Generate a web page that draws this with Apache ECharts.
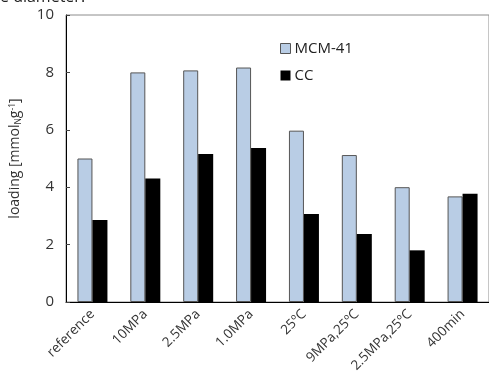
<!DOCTYPE html>
<html>
<head>
<meta charset="utf-8">
<script src="https://cdn.jsdelivr.net/npm/echarts@6/dist/echarts.min.js"></script>
<style>html,body{margin:0;padding:0;background:#fff;}#c{width:489px;height:381px;}</style>
</head>
<body>
<div id="c"></div>
<script>
var categories = ['reference', '10MPa', '2.5MPa', '1.0MPa', '25ºC', '9MPa,25ºC', '2.5MPa,25ºC', '400min'];
var mcm41 = [5.0, 8.0, 8.07, 8.17, 5.97, 5.12, 4.0, 3.68];
var cc = [2.86, 4.3, 5.16, 5.37, 3.07, 2.37, 1.8, 3.77];
var yTicks = [0, 2, 4, 6, 8, 10];

var font = '"Open Sans", "Noto Sans", sans-serif';
var chart = echarts.init(document.getElementById('c'), null, {renderer: 'canvas'});
chart.setOption({
  animation: false,
  backgroundColor: '#fff',
  textStyle: {fontFamily: font},
  graphic: [{
    type: 'text', left: 0, top: -11,
    style: {text: 'e diameter.', font: '16px ' + font, fill: '#222'}
  }],
  grid: {left: 61, right: -2, top: 15, bottom: 79, show: true, borderColor: '#8c8c8c', borderWidth: 1},
  legend: {
    left: 275, top: 36, orient: 'vertical', itemGap: 12,
    itemWidth: 10, itemHeight: 10,
    textStyle: {fontFamily: font, fontSize: 15, color: '#222', padding: [0, 0, 0, -1]},
    data: [
      {name: 'MCM-41', icon: 'rect', itemStyle: {color: '#b9cde5', borderColor: '#555', borderWidth: 1}},
      {name: 'CC', icon: 'rect', itemStyle: {color: '#000', borderWidth: 0}}
    ]
  },
  xAxis: {
    type: 'category', data: categories,
    axisLine: {lineStyle: {color: '#000', width: 1}},
    axisTick: {inside: true, length: 4, alignWithLabel: false, lineStyle: {color: '#444'}},
    axisLabel: {rotate: 45, margin: 10, fontSize: 13.5, color: '#333', fontFamily: font, interval: 0}
  },
  yAxis: {
    type: 'value', min: yTicks[0], max: yTicks[yTicks.length - 1], interval: 2,
    name: '{a|loading [mmol}{s|N}{a|g}{p|-1}{a|]}',
    nameLocation: 'middle', nameGap: 43, nameRotate: 90,
    nameTextStyle: {
      rich: {
        a: {fontSize: 14, color: '#333', fontFamily: font},
        s: {fontSize: 8.5, color: '#333', fontFamily: font, padding: [6, 0, 0, 0]},
        p: {fontSize: 8.5, color: '#333', fontFamily: font, padding: [0, 0, 6, 0]}
      }
    },
    axisLine: {show: true, lineStyle: {color: '#000', width: 1}},
    axisTick: {show: true, inside: true, length: 4, lineStyle: {color: '#444'}},
    splitLine: {show: false},
    axisLabel: {fontSize: 15, color: '#333', margin: 12, fontFamily: font}
  },
  series: [
    {name: 'MCM-41', type: 'bar', data: mcm41, barWidth: 15, barGap: '0%',
     itemStyle: {color: '#b9cde5', borderColor: '#555', borderWidth: 1}},
    {name: 'CC', type: 'bar', data: cc, barWidth: 15, barGap: '0%',
     itemStyle: {color: '#000'}}
  ]
});
</script>
</body>
</html>
